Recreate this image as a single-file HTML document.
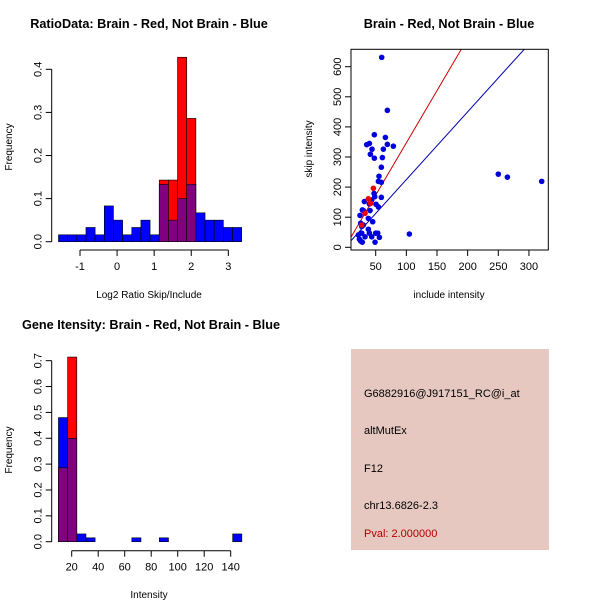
<!DOCTYPE html>
<html><head><meta charset="utf-8"><style>
body{margin:0;background:#fff}
svg{display:block;font-family:"Liberation Sans",sans-serif}
</style></head><body>
<svg id="s" width="600" height="600" xmlns="http://www.w3.org/2000/svg">
<rect width="600" height="600" fill="#fff"/>
<text x="149" y="28" font-size="12.7" font-weight="bold" text-anchor="middle">RatioData: Brain - Red, Not Brain - Blue</text>
<text x="449" y="28" font-size="12.7" font-weight="bold" text-anchor="middle">Brain - Red, Not Brain - Blue</text>
<text x="151" y="329" font-size="12.7" font-weight="bold" text-anchor="middle">Gene Itensity: Brain - Red, Not Brain - Blue</text>
<text x="149" y="298" font-size="10" text-anchor="middle">Log2 Ratio Skip/Include</text>
<text transform="translate(12,147) rotate(-90)" font-size="10" text-anchor="middle">Frequency</text>
<text x="449" y="298" font-size="10" text-anchor="middle">include intensity</text>
<text transform="translate(312,149) rotate(-90)" font-size="10" text-anchor="middle">skip intensity</text>
<text x="149" y="598" font-size="10" text-anchor="middle">Intensity</text>
<text transform="translate(12,450) rotate(-90)" font-size="10" text-anchor="middle">Frequency</text>
<g>
<rect x="351" y="349" width="198" height="201" fill="#e6c8c0"/>
<text x="364" y="397" font-size="11">G6882916@J917151_RC@i_at</text>
<text x="364" y="434" font-size="11">altMutEx</text>
<text x="364" y="472" font-size="11">F12</text>
<text x="364" y="509" font-size="11">chr13.6826-2.3</text>
<text x="364" y="537" font-size="11" fill="#b00000">Pval: 2.000000</text>
</g>
</svg>
<script>
// Ratio histogram data
const ratioBinStart=-1.58, ratioBinWidth=0.247;
const ratioBlue=[0.016,0.016,0.016,0.033,0.016,0.083,0.05,0.016,0.033,0.05,0.016,0.133,0.05,0.1,0.133,0.067,0.05,0.05,0.033,0.033];
const ratioRed=[0,0,0,0,0,0,0,0,0,0,0,0.143,0.143,0.428,0.286,0,0,0,0,0];
const ratioXTicks=[-1,0,1,2,3];
const ratioYTicks=[0,0.1,0.2,0.3,0.4];
// Intensity histogram data
const intBinStart=10, intBinWidth=6.92;
const intBlue=[0.48,0.4,0.03,0.015,0,0,0,0,0.015,0,0,0.015,0,0,0,0,0,0,0,0.03];
const intRed=[0.286,0.714,0,0,0,0,0,0,0,0,0,0,0,0,0,0,0,0,0,0];
const intXTicks=[20,40,60,80,100,120,140];
const intYTicks=[0,0.1,0.2,0.3,0.4,0.5,0.6,0.7];
// Scatter data
const blueInclude=[59.8,69,47.8,65.8,69,78.8,39.7,35.3,44,41.3,62.5,47.8,60.9,59.2,55.4,54.4,59.2,47.3,48.4,43.5,59.2,39.7,50.5,54.4,31.5,29.9,40.8,28.2,24.4,38,45.1,25.5,29.9,27.2,38,39.7,43.5,50,53.3,56,48.9,21.7,23.4,25.5,28.2,32.6,27.2,250,264.8,320.8,104.9];
const blueSkip=[631,455,374,365,342,336,345,341,326,309,326,296,298,266,236,219,216,179,168,157,166,144,143,134,152,122,122,124,106,96,85,80,74,69,60,47,35,47,47,33,17,41,27,21,17,35,47,243,233,219,44];
const redInclude=[46.2,38,41.8,32.6,27.2];
const redSkip=[196,161,146,113,74];
const redSlope=3.47, blueSlope=2.25;
const scXTicks=[50,100,150,200,250,300];
const scYTicks=[0,100,200,300,400,500,600];

const NS="http://www.w3.org/2000/svg", svg=document.getElementById('s');
function mk(tag,attrs,parent){const e=document.createElementNS(NS,tag);for(const k in attrs)e.setAttribute(k,attrs[k]);(parent||svg).appendChild(e);return e;}

function hist(blue,red,start,w,xs,ys,xTicks,yTicks,axisY,axisX,yfmt,name){
  const g=mk('g',{});
  
  
  blue.forEach((b,i)=>{
    const r=red[i], x0=xs(start+i*w), x1=xs(start+(i+1)*w);
    const m=Math.min(b,r), hi=Math.max(b,r);
    if(hi>0){
      const bar=mk('rect',{x:x0,y:ys(hi),width:x1-x0,height:ys(0)-ys(hi),fill:b>=r?'#0000ff':'#ff0000',stroke:'#000','stroke-width':0.6},g);
      
      
    }
    if(m>0){
      const ov=mk('rect',{x:x0,y:ys(m),width:x1-x0,height:ys(0)-ys(m),fill:'#800080',stroke:'#000','stroke-width':0.6},g);
      
      
    }
  });
  mk('line',{x1:xs(xTicks[0]),x2:xs(xTicks[xTicks.length-1]),y1:axisY,y2:axisY,stroke:'#000'},g);
  xTicks.forEach(t=>{mk('line',{x1:xs(t),x2:xs(t),y1:axisY,y2:axisY+6,stroke:'#000'},g);
    const tx=mk('text',{x:xs(t),y:axisY+20,'font-size':11,'text-anchor':'middle'},g);tx.textContent=t;
    
    });
  mk('line',{x1:axisX,x2:axisX,y1:ys(yTicks[0]),y2:ys(yTicks[yTicks.length-1]),stroke:'#000'},g);
  yTicks.forEach(t=>{mk('line',{x1:axisX-6,x2:axisX,y1:ys(t),y2:ys(t),stroke:'#000'},g);
    const tx=mk('text',{transform:`translate(${axisX-10},${ys(t)}) rotate(-90)`,'font-size':11,'text-anchor':'middle'},g);tx.textContent=t.toFixed(1);
    
    });
}
hist(ratioBlue,ratioRed,ratioBinStart,ratioBinWidth,v=>80+(v+1)*37.08,v=>241.7-v*431,ratioXTicks,ratioYTicks,250,51.7,null,'ratio-histogram');
hist(intBlue,intRed,intBinStart,intBinWidth,v=>71.7+(v-20)*1.325,v=>541.7-v*258.6,intXTicks,intYTicks,550.7,51.7,null,'intensity-histogram');

// scatter
const sx=v=>375.7+(v-50)*0.613, sy=v=>247.3-v*0.301;
const sg=mk('g',{});


const cp=mk('clipPath',{id:'cp'},sg);
mk('rect',{x:351,y:49.3,width:197.3,height:200.7},cp);
const xa=9.7, xb=331.6;
const rl=mk('line',{x1:sx(xa),y1:sy(redSlope*xa),x2:sx(xb),y2:sy(redSlope*xb),stroke:'#cc0000','clip-path':'url(#cp)'},sg);


const bl=mk('line',{x1:sx(xa),y1:sy(blueSlope*xa),x2:sx(xb),y2:sy(blueSlope*xb),stroke:'#0000aa','clip-path':'url(#cp)'},sg);


blueInclude.forEach((v,i)=>{const c=mk('circle',{cx:sx(v),cy:sy(blueSkip[i]),r:2.8,fill:'#0000dd'},sg);
  
  });
redInclude.forEach((v,i)=>{const c=mk('circle',{cx:sx(v),cy:sy(redSkip[i]),r:2.8,fill:'#ee0000'},sg);
  
  });
mk('rect',{x:351,y:49.3,width:197.3,height:200.7,fill:'none',stroke:'#000'},sg);
scXTicks.forEach(t=>{mk('line',{x1:sx(t),x2:sx(t),y1:250,y2:256,stroke:'#000'},sg);
  const tx=mk('text',{x:sx(t),y:270,'font-size':11,'text-anchor':'middle'},sg);tx.textContent=t;
  
  });
scYTicks.forEach(t=>{mk('line',{x1:345,x2:351,y1:sy(t),y2:sy(t),stroke:'#000'},sg);
  const tx=mk('text',{transform:`translate(341,${sy(t)}) rotate(-90)`,'font-size':11,'text-anchor':'middle'},sg);tx.textContent=t;
  
  });
</script>
</body></html>
